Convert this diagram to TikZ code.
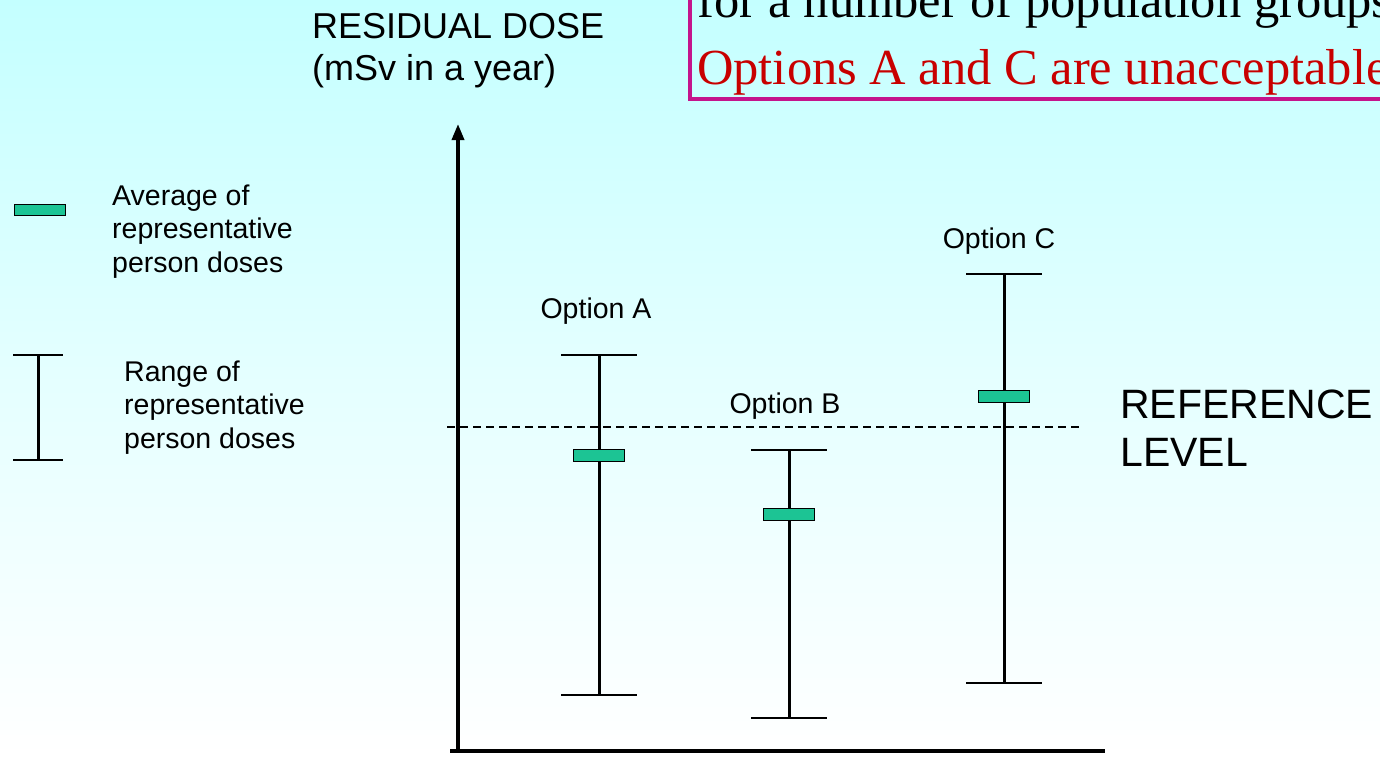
\documentclass[tikz,border=0pt]{standalone}
\usepackage{fontspec}
\setmainfont{Liberation Sans}
\newfontfamily\boxserif{Liberation Serif}
\usetikzlibrary{arrows.meta}

\definecolor{bgtop}{RGB}{196,255,255}
\definecolor{meanfill}{RGB}{28,196,148}
\definecolor{boxedge}{RGB}{196,20,140}
\definecolor{warnred}{RGB}{200,0,0}

\tikzset{
  lbl/.style={inner sep=0pt, anchor=base west, align=left,
              font=\fontsize{28.5}{33.5}\selectfont},
  optlbl/.style={inner sep=0pt, anchor=base, font=\fontsize{28.5}{33.5}\selectfont},
  bigtxt/.style={inner sep=0pt, anchor=base west, align=left},
  barline/.style={line width=3pt},
  capline/.style={line width=2pt},
  meanbox/.style={draw=black, line width=1.3pt, fill=meanfill,
                  minimum width=51pt, minimum height=11.5pt, inner sep=0pt},
  axisline/.style={line width=3.5pt},
}

% one option: vertical range bar with end caps and the average marker
\newcommand\rangebar[5]{%
  \coordinate (#1top) at (#2,#3);
  \coordinate (#1bot) at (#2,#4);
  \draw[barline] (#1top) -- (#1bot);
  \draw[capline] ([xshift=-38pt]#1top) -- ([xshift=38pt]#1top);
  \draw[capline] ([xshift=-38pt]#1bot) -- ([xshift=38pt]#1bot);
  \node[meanbox] (#1mean) at (#2,#5) {};
}

\begin{document}
\begin{tikzpicture}[x=1pt,y=-1pt]
  \useasboundingbox (0,0) rectangle (1380,756);
  \clip (0,0) rectangle (1380,756);
  \shade[top color=bgtop, bottom color=white, middle color=bgtop!45!white]
    (0,0) rectangle (1380,756);

  % statement box at the top right
  \draw[boxedge, line width=3.5pt] (690,-30) rectangle (1420,99);
  \node[bigtxt, font=\boxserif\fontsize{50.5}{59}\selectfont] (l1) at (697,17)
    {for a number of population groups};
  \node[bigtxt, font=\boxserif\fontsize{50.5}{59}\selectfont, text=warnred] (l2) at (697,84)
    {Options A and C are unacceptable};

  % axis title (base anchor sits on the last line)
  \node[bigtxt, font=\fontsize{36}{42}\selectfont] (ytitle) at (312,80)
    {RESIDUAL DOSE\\(mSv in a year)};

  % axes
  \coordinate (origin) at (458,752);
  \coordinate (ytip) at (458,124);
  \coordinate (xstart) at (450,751);
  \coordinate (xend) at (1105,751);
  \draw[axisline, -{Triangle[length=16pt,width=12pt]}] (origin) -- (ytip);
  \draw[line width=4pt] (xstart) -- (xend);

  % reference level
  \coordinate (refL) at (447,427);
  \coordinate (refR) at (1082,427);
  \draw[line width=1.3pt, dash pattern=on 8pt off 5pt] (refL) -- (refR);
  \node[bigtxt, font=\fontsize{41}{48}\selectfont] (reftxt) at (1120,466)
    {REFERENCE\\LEVEL};

  % options
  \rangebar{A}{599}{355}{695}{455.5}
  \rangebar{B}{789}{450}{718}{514.5}
  \rangebar{C}{1004}{274}{683}{396.5}
  \node[optlbl] (labA) at (596,318) {Option A};
  \node[optlbl] (labB) at (785,413) {Option B};
  \node[optlbl] (labC) at (999,248) {Option C};

  % legend
  \node[meanbox] (legmean) at (40,210) {};
  \node[lbl] (legmeantxt) at (112,272) {Average of\\representative\\person doses};
  \coordinate (legtop) at (38,355);
  \coordinate (legbot) at (38,460);
  \draw[barline] (legtop) -- (legbot);
  \draw[capline] ([xshift=-25pt]legtop) -- ([xshift=25pt]legtop);
  \draw[capline] ([xshift=-25pt]legbot) -- ([xshift=25pt]legbot);
  \node[lbl] (legrangetxt) at (124,448) {Range of\\representative\\person doses};
\end{tikzpicture}
\end{document}
